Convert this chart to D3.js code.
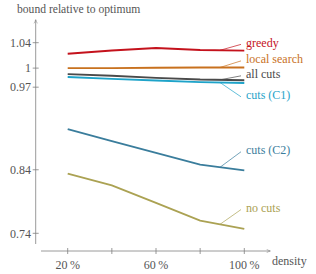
<!DOCTYPE html>
<html>
<head>
<meta charset="utf-8">
<script src="https://cdn.jsdelivr.net/npm/d3@7"></script>
<style>
  body { margin: 0; background: #fff; }
</style>
</head>
<body>
<svg id="chart" width="316" height="274"></svg>
<script>
// density in percent
const densities = [20, 40, 60, 80, 100];

const greedy      = [1.0227, 1.0277, 1.0317, 1.0285, 1.0275];
const localSearch = [1.0, 1.0, 1.0005, 1.001, 1.001];
const allCuts     = [0.9906, 0.988, 0.9846, 0.982, 0.981];
const cutsC1      = [0.986, 0.983, 0.9805, 0.978, 0.9765];
const cutsC2      = [0.904, 0.885, 0.8667, 0.848, 0.839];
const noCuts      = [0.8338, 0.8154, 0.7878, 0.760, 0.747];

const seriesNames  = ['greedy', 'local search', 'all cuts', 'cuts (C1)', 'cuts (C2)', 'no cuts'];
const seriesColors = ['#c4121c', '#c8711e', '#4a4a4a', '#1ea3c9', '#3a7d9c', '#aba253'];
const seriesValues = [greedy, localSearch, allCuts, cutsC1, cutsC2, noCuts];
// where the label sits (value units)
const labelValues  = [1.0405, 1.0145, 0.991, 0.958, 0.8715, 0.7805];

const yTicks = [0.74, 0.84, 0.97, 1, 1.04];
const xTicks = [20, 40, 60, 80, 100];
const xTickLabels = [20, 60, 100];

const FONT = '"Liberation Serif", "DejaVu Serif", serif';
const textColor = '#555';

const svg = d3.select('#chart');

const x = d3.scaleLinear().domain([20, 100]).range([67.7, 244.3]);
const y = d3.scaleLinear().domain([0.74, 1.04]).range([233.3, 42.7]);

const axisColor = '#808080';
const axisX0 = 35.7, axisY0 = 251;

// arrow marker
svg.append('defs').append('marker')
  .attr('id', 'arrow')
  .attr('viewBox', '0 0 10 10')
  .attr('refX', 8).attr('refY', 5)
  .attr('markerWidth', 6).attr('markerHeight', 6)
  .attr('orient', 'auto')
  .append('path')
  .attr('d', 'M1,1.5 Q5,4 9,5 Q5,6 1,8.5')
  .attr('fill', 'none')
  .attr('stroke', axisColor)
  .attr('stroke-width', 1.1);

// y axis
svg.append('line')
  .attr('x1', axisX0).attr('x2', axisX0)
  .attr('y1', 244).attr('y2', 20)
  .attr('stroke', axisColor).attr('stroke-width', 0.8)
  .attr('marker-end', 'url(#arrow)');

const yt = svg.append('g');
yTicks.forEach(v => {
  yt.append('line')
    .attr('x1', axisX0 - 3).attr('x2', axisX0 + 3)
    .attr('y1', y(v)).attr('y2', y(v))
    .attr('stroke', axisColor).attr('stroke-width', 0.8);
  yt.append('text')
    .attr('x', 31).attr('y', y(v))
    .attr('dy', '0.35em')
    .attr('text-anchor', 'end')
    .attr('font-family', FONT)
    .attr('font-size', 12)
    .attr('fill', textColor)
    .text(v);
});

// x axis
svg.append('line')
  .attr('x1', 41).attr('x2', 270)
  .attr('y1', axisY0).attr('y2', axisY0)
  .attr('stroke', axisColor).attr('stroke-width', 0.8)
  .attr('marker-end', 'url(#arrow)');

xTicks.forEach(v => {
  svg.append('line')
    .attr('x1', x(v)).attr('x2', x(v))
    .attr('y1', axisY0 - 3).attr('y2', axisY0 + 3)
    .attr('stroke', axisColor).attr('stroke-width', 0.8);
});
xTickLabels.forEach(v => {
  svg.append('text')
    .attr('x', x(v)).attr('y', 269)
    .attr('text-anchor', 'middle')
    .attr('font-family', FONT)
    .attr('font-size', 12)
    .attr('fill', textColor)
    .text(v + '\u2009%');
});

svg.append('text')
  .attr('x', 272).attr('y', 265)
  .attr('font-family', FONT)
  .attr('font-size', 12)
  .attr('fill', textColor)
  .text('density');

svg.append('text')
  .attr('x', 17).attr('y', 13)
  .attr('font-family', FONT)
  .attr('font-size', 11.6)
  .attr('fill', textColor)
  .text('bound relative to optimum');

// series
const line = d3.line()
  .x((d, i) => x(densities[i]))
  .y(d => y(d));

seriesValues.forEach((vals, k) => {
  svg.append('path')
    .datum(vals)
    .attr('d', line)
    .attr('fill', 'none')
    .attr('stroke', seriesColors[k])
    .attr('stroke-width', 1.9);

  // leader line from the curve near 90% to the label
  const lx = 89;
  const lv = vals[3] + (vals[4] - vals[3]) * (lx - 80) / 20;
  svg.append('line')
    .attr('x1', x(lx)).attr('y1', y(lv))
    .attr('x2', 241).attr('y2', y(labelValues[k]) + 2)
    .attr('stroke', seriesColors[k])
    .attr('stroke-width', 0.7);

  svg.append('text')
    .attr('x', 246).attr('y', y(labelValues[k]))
    .attr('dy', '0.35em')
    .attr('font-family', FONT)
    .attr('font-size', 12)
    .attr('fill', seriesColors[k])
    .text(seriesNames[k]);
});
</script>
</body>
</html>
